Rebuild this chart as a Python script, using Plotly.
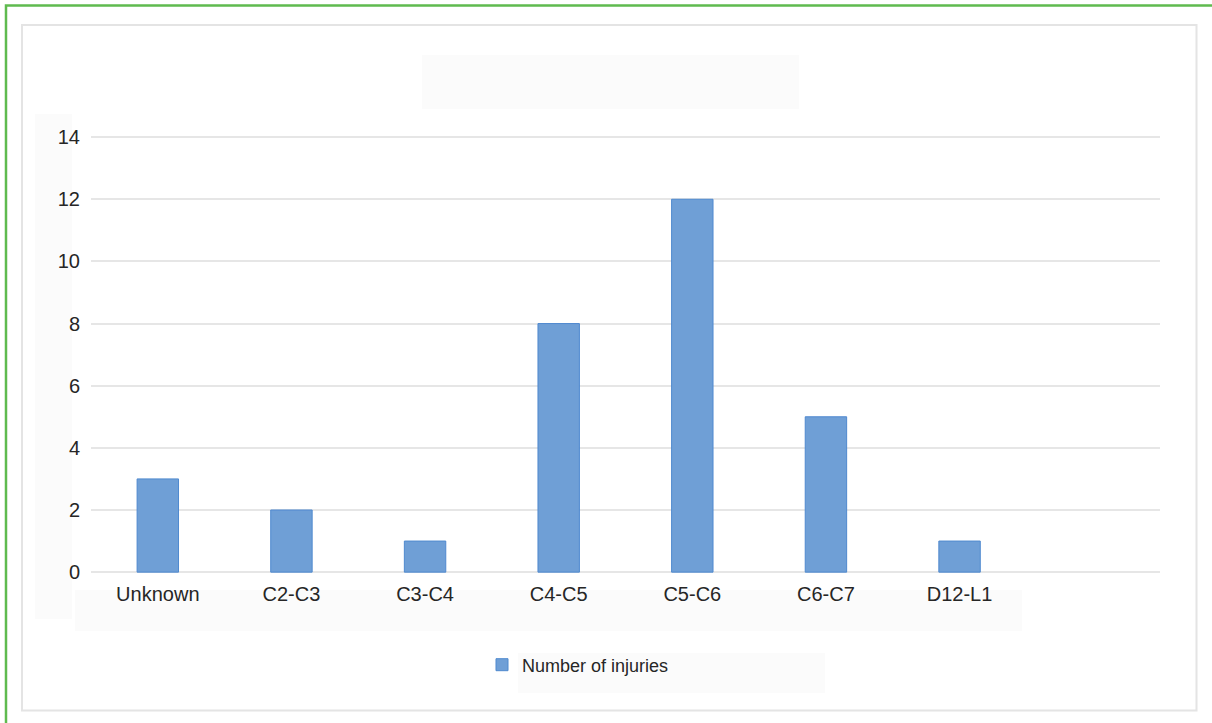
import plotly.graph_objects as go

categories = ["Unknown", "C2-C3", "C3-C4", "C4-C5", "C5-C6", "C6-C7", "D12-L1"]
injuries = [3, 2, 1, 8, 12, 5, 1]
y_ticks = [0, 2, 4, 6, 8, 10, 12, 14]
series_name = "Number of injuries"

W, H = 1212, 723
L, R, T, B = 91, 1160, 134, 574

def px(x):
    return (x - L) / (R - L)

def py(y):
    return (B - y) / (B - T)

fig = go.Figure()
fig.add_trace(go.Bar(
    x=categories, y=injuries, name=series_name,
    marker=dict(color="#6f9fd6", line=dict(color="#4f89cf", width=1)),
    showlegend=True,
))

shapes = []
# outer green frame
shapes.append(dict(type="rect", xref="paper", yref="paper",
                   x0=px(6), x1=px(1230), y0=py(5.5), y1=py(740),
                   line=dict(color="#5fba4f", width=2.5), fillcolor="rgba(0,0,0,0)", layer="below"))
# inner gray frame
shapes.append(dict(type="rect", xref="paper", yref="paper",
                   x0=px(22), x1=px(1196.5), y0=py(25), y1=py(710.5),
                   line=dict(color="#e4e4e4", width=2), fillcolor="rgba(0,0,0,0)", layer="below"))
# faint placeholder areas
for (x0, x1, y0, y1) in [(422, 799, 55, 109), (35, 72, 114, 619), (75, 1022, 590, 631), (518, 825, 653, 693)]:
    shapes.append(dict(type="rect", xref="paper", yref="paper",
                       x0=px(x0), x1=px(x1), y0=py(y0), y1=py(y1),
                       line=dict(width=0), fillcolor="#fbfbfb", layer="below"))

fig.update_layout(
    width=W, height=H,
    margin=dict(l=L, r=W - R, t=T, b=H - B, pad=0),
    paper_bgcolor="white", plot_bgcolor="rgba(0,0,0,0)",
    font=dict(family="Liberation Sans, Arial, sans-serif", size=20, color="#262626"),
    bargap=0.69,
    showlegend=True,
    legend=dict(x=px(482), y=py(665), xanchor="left", yanchor="middle",
                orientation="h", font=dict(size=18, color="#262626"),
                bgcolor="rgba(0,0,0,0)"),
    shapes=shapes,
    xaxis=dict(range=[-0.5, 7.5], showgrid=False, showline=False, zeroline=False,
               ticks="", ticklabelstandoff=6, tickfont=dict(size=20)),
    yaxis=dict(range=[-0.06, 14.1], tickvals=y_ticks, showgrid=True, gridcolor="#e6e6e6",
               gridwidth=2, zeroline=True, zerolinecolor="#e6e6e6", zerolinewidth=2,
               showline=False, ticks="",
               ticklabelstandoff=10, tickfont=dict(size=20)),
)

fig.write_html("out.html")
